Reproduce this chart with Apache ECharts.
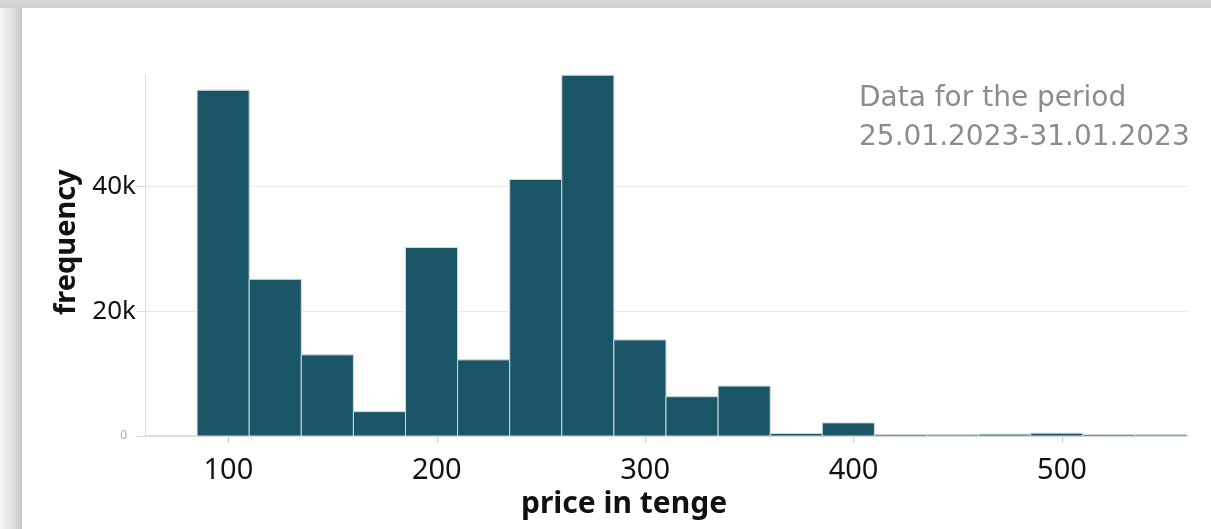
<!DOCTYPE html>
<html><head><meta charset="utf-8">
<script src="https://cdn.jsdelivr.net/npm/echarts@6/dist/echarts.min.js"></script>
<style>
html,body{margin:0;padding:0;width:1211px;height:529px;overflow:hidden;}
body{background:linear-gradient(to right,#f7f7f7 0px,#e2e2e2 12px,#c9c9c9 21px,#c9c9c9 22px);}
#topband{position:absolute;left:0;top:0;width:1211px;height:8px;background:linear-gradient(to bottom,#d8d8d8,#cfcfcf);}
#card{position:absolute;left:22px;top:8px;width:1189px;height:521px;background:#fff;}
#chart{position:absolute;left:0;top:0;width:1211px;height:529px;}
</style></head>
<body>
<div id="topband"></div>
<div id="card"></div>
<div id="chart"></div>
<script>
// histogram bins (price in tenge), width 25
const binStarts = [85,110,135,160,185,210,235,260,285,310,335,360,385,410,435,460,485,510,535];
const binWidth = 25;
const counts = [55400,25100,13000,3900,30200,12200,41100,57800,15400,6300,8000,400,2100,250,200,300,450,250,200];
const xTicks = [100,200,300,400,500];
const yTicks = [0,20000,40000];
const noteLines = ['Data for the period','25.01.2023-31.01.2023'];

const data = binStarts.map((s,i)=>[s, s+binWidth, counts[i]]);
const chart = echarts.init(document.getElementById('chart'));
chart.setOption({
  animation:false,
  grid:{left:145,top:74,right:24,bottom:93},
  xAxis:{
    type:'value', min:60, max:560,
    name:'price in tenge', nameLocation:'middle', nameGap:49,
    nameTextStyle:{fontFamily:'Noto Sans',fontWeight:'bold',fontSize:30,color:'#111',padding:[0,84,0,0]},
    axisLine:{show:true,lineStyle:{color:'#cfcfcf',width:1.5}},
    axisTick:{show:true,customValues:xTicks,length:7,lineStyle:{color:'#cfcfcf'}},
    axisLabel:{customValues:xTicks,margin:20,fontFamily:'Noto Sans',fontSize:29,color:'#111'},
    splitLine:{show:false}
  },
  yAxis:{
    type:'value', min:0, max:58000,
    name:'frequency', nameLocation:'middle', nameRotate:90, nameGap:64,
    nameTextStyle:{fontFamily:'Noto Sans',fontWeight:'bold',fontSize:29,color:'#111',padding:[0,0,0,26]},
    axisLine:{show:true,lineStyle:{color:'#dcdcdc'}},
    axisTick:{show:true,customValues:yTicks,length:9,lineStyle:{color:'#dcdcdc'}},
    axisLabel:{customValues:yTicks,margin:9,
      formatter:v=> v===0 ? '{s|0}' : '{b|'+(v/1000)+'k}',
      rich:{s:{fontFamily:'Noto Sans',fontSize:12,color:'#aaa',padding:[0,9,0,0]},b:{fontFamily:'Noto Sans',fontSize:26,color:'#111'}}},
    splitLine:{show:false}
  },
  graphic:[{type:'group',left:859,top:85,children:noteLines.map((t,i)=>({
    type:'text',x:0,y:i*39,style:{text:t,font:'28px "DejaVu Sans"',fill:'#8c8c8c'}}))}],
  series:[{
    type:'custom',
    data:data,
    encode:{x:[0,1],y:2},
    renderItem:(params,api)=>{
      const p0=api.coord([api.value(0),api.value(2)]);
      const p1=api.coord([api.value(1),0]);
      return {type:'rect',shape:{x:p0[0],y:p0[1],width:p1[0]-p0[0],height:p1[1]-p0[1]},
        style:{fill:'#1a5668',stroke:'#cdd8dc',lineWidth:1}};
    },
    markLine:{silent:true,symbol:'none',label:{show:false},z:0,
      lineStyle:{color:'#e8e8e8',type:'solid',width:1},
      data:yTicks.filter(v=>v>0).map(v=>({yAxis:v}))}
  }]
});
</script>
</body></html>
